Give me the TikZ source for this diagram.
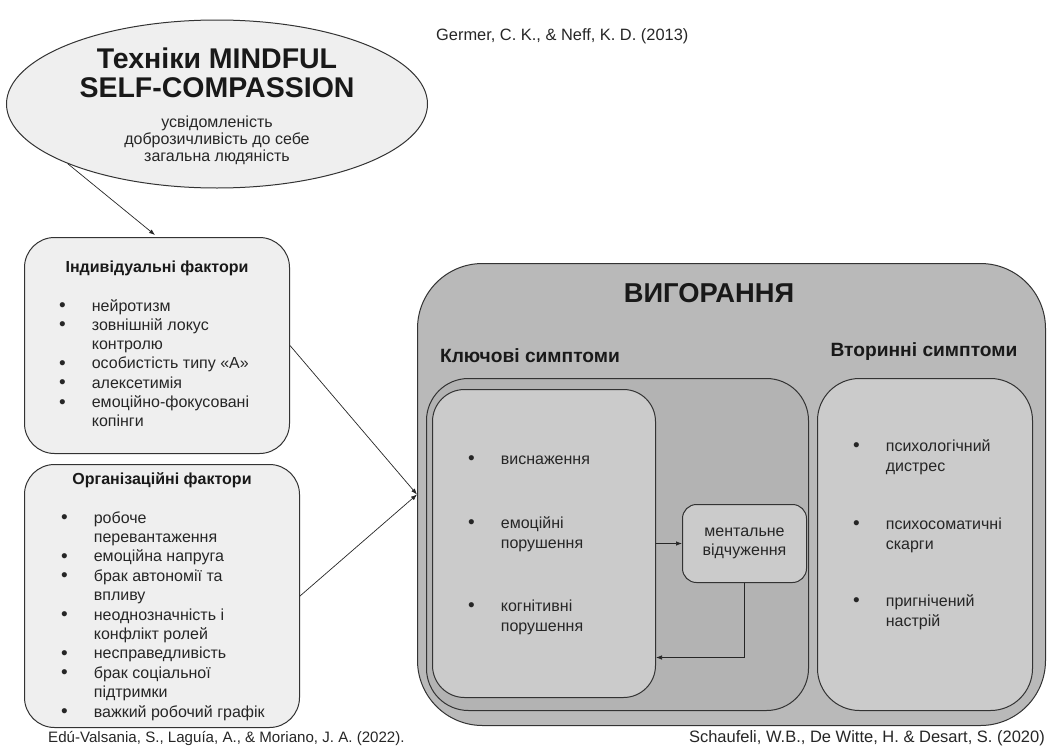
\documentclass[tikz,border=0pt]{standalone}
\usepackage{fontspec}
\setmainfont{Liberation Sans}
\usepackage{tikz}
\usetikzlibrary{shapes, positioning, arrows.meta}
\definecolor{paleface}{HTML}{EFEFEF}
\definecolor{outerface}{HTML}{B9B9B9}
\definecolor{keyface}{HTML}{B3B3B3}
\definecolor{innerface}{HTML}{CBCBCB}
\colorlet{inkline}{black!80}
\newcommand{\bul}{{\fontsize{19}{19}\selectfont\raisebox{-0.5pt}{\textbullet}}}

\begin{document}
\begin{tikzpicture}[x=1pt, y=-1pt,
    panel/.style={draw=inkline,
      line width=1pt,
      rounded corners=#1,
      anchor=north west,
      inner sep=0pt},
    link/.style={-{Latex[length=6pt,width=4.5pt]},
      line width=0.7pt,
      draw=black!85},
    heading/.style={font=\fontsize{16}{19}\selectfont\bfseries,
      text=black!90,
      inner sep=0pt,
      anchor=base},
    itemlist/.style={font=\fontsize{16}{#1}\selectfont,
      text=black!85,
      inner sep=0pt,
      anchor=base west},
    source/.style={font=\fontsize{#1}{18}\selectfont,
      text=black!85,
      inner sep=0pt}]
  \useasboundingbox (0,0) rectangle (1047,755);

  % TECHNIQUES

  \node[ellipse,
    draw=inkline,
    line width=1pt,
    fill=paleface,
    inner sep=0pt,
    minimum width=421pt,
    minimum height=168pt] (mindful) at (217,104) {};

  \node[align=center,
    inner sep=0pt,
    text=black!90,
    font=\fontsize{28.5}{29}\selectfont\bfseries] (mindfultitle) at (217,73) {
    Техніки MINDFUL\\SELF-COMPASSION
  };

  \node[align=center,
    inner sep=0pt,
    text=black!85,
    font=\fontsize{16}{17}\selectfont,
    below=18pt of mindfultitle] (mindfulsub) {
    усвідомленість\\доброзичливість до себе\\загальна людяність
  };

  \node[source=16.4, anchor=base west] (germerref) at (436,40) {Germer, C. K., \& Neff, K. D. (2013)};

  % FACTORS

  \node[panel=30pt,
    fill=paleface,
    minimum width=265pt,
    minimum height=216pt] (indiv) at (24,237) {};

  \node[heading,
    below=35pt of indiv.north,
    anchor=base] (indivtitle) {Індивідуальні фактори};

  \node[itemlist=19.3pt,
    below right=74pt and 35pt of indiv.north west,
    anchor=base west] (indivlist) {%
    \begin{tabular}[t]{@{}c@{\hspace{26pt}}l@{}}
      \bul & нейротизм\\
      \bul & зовнішній локус\\
           & контролю\\
      \bul & особистість типу «А»\\
      \bul & алексетимія\\
      \bul & емоційно-фокусовані\\
           & копінги
    \end{tabular}};

  \node[panel=30pt,
    fill=paleface,
    minimum width=275pt,
    minimum height=263pt] (org) at (24,464) {};

  \node[heading,
    below=20pt of org.north,
    anchor=base] (orgtitle) {Організаційні фактори};

  \node[itemlist=19.4pt,
    below right=59pt and 37pt of org.north west,
    anchor=base west] (orglist) {%
    \begin{tabular}[t]{@{}c@{\hspace{26pt}}l@{}}
      \bul & робоче\\
           & перевантаження\\
      \bul & емоційна напруга\\
      \bul & брак автономії та\\
           & впливу\\
      \bul & неоднозначність і\\
           & конфлікт ролей\\
      \bul & несправедливість\\
      \bul & брак соціальної\\
           & підтримки\\
      \bul & важкий робочий графік
    \end{tabular}};

  \node[source=15.1, anchor=base west] (eduref) at (48,742) {Edú-Valsania, S., Laguía, A., \& Moriano, J. A. (2022).};

  % BURNOUT

  \node[panel=65pt,
    fill=outerface,
    minimum width=628pt,
    minimum height=462pt] (burnout) at (417,263) {};

  \node[heading,
    font=\fontsize{27.3}{29}\selectfont\bfseries] (burnouttitle) at (709,302) {ВИГОРАННЯ};

  \node[heading,
    font=\fontsize{19.2}{22}\selectfont\bfseries] (keytitle) at (530,362) {Ключові симптоми};

  \node[heading,
    font=\fontsize{19.2}{22}\selectfont\bfseries] (sectitle) at (924,356) {Вторинні симптоми};

  \node[panel=42pt,
    fill=keyface,
    minimum width=382pt,
    minimum height=332pt] (keybox) at (426,378) {};

  \node[panel=32pt,
    fill=innerface,
    minimum width=223pt,
    minimum height=308pt] (keyinner) at (432,389) {};

  \node[itemlist=20pt] (keylist) at (468,464) {%
    \begin{tabular}[t]{@{}c@{\hspace{26pt}}l@{}}
      \bul & виснаження\\[44pt]
      \bul & емоційні\\
           & порушення\\[43pt]
      \bul & когнітивні\\
           & порушення
    \end{tabular}};

  \node[panel=14pt,
    fill=innerface,
    minimum width=124pt,
    minimum height=78pt,
    align=center,
    text=black!85,
    font=\fontsize{16}{19}\selectfont] (mental) at (682,504) {ментальне\\відчуження};

  \node[panel=42pt,
    fill=innerface,
    minimum width=215pt,
    minimum height=332pt] (secbox) at (817,378) {};

  \node[itemlist=20pt] (seclist) at (853,451) {%
    \begin{tabular}[t]{@{}c@{\hspace{26pt}}l@{}}
      \bul & психологічний\\
           & дистрес\\[38pt]
      \bul & психосоматичні\\
           & скарги\\[37pt]
      \bul & пригнічений\\
           & настрій
    \end{tabular}};

  \node[source=16.5, anchor=base east] (schaufeliref) at (1045,742) {Schaufeli, W.B., De Witte, H. \& Desart, S. (2020)};

  % LINKS

  \coordinate (mindfultip) at (155,235);
  \draw[link] (mindful.south west) -- (mindfultip);
  \draw[link] (indiv.east) -- (burnout.west);
  \draw[link] (org.east) -- (burnout.west);
  \draw[link] (keyinner.east) -- (mental.west);
  \draw[link] (mental.south) |- ([yshift=-114pt]keyinner.east);

\end{tikzpicture}
\end{document}
